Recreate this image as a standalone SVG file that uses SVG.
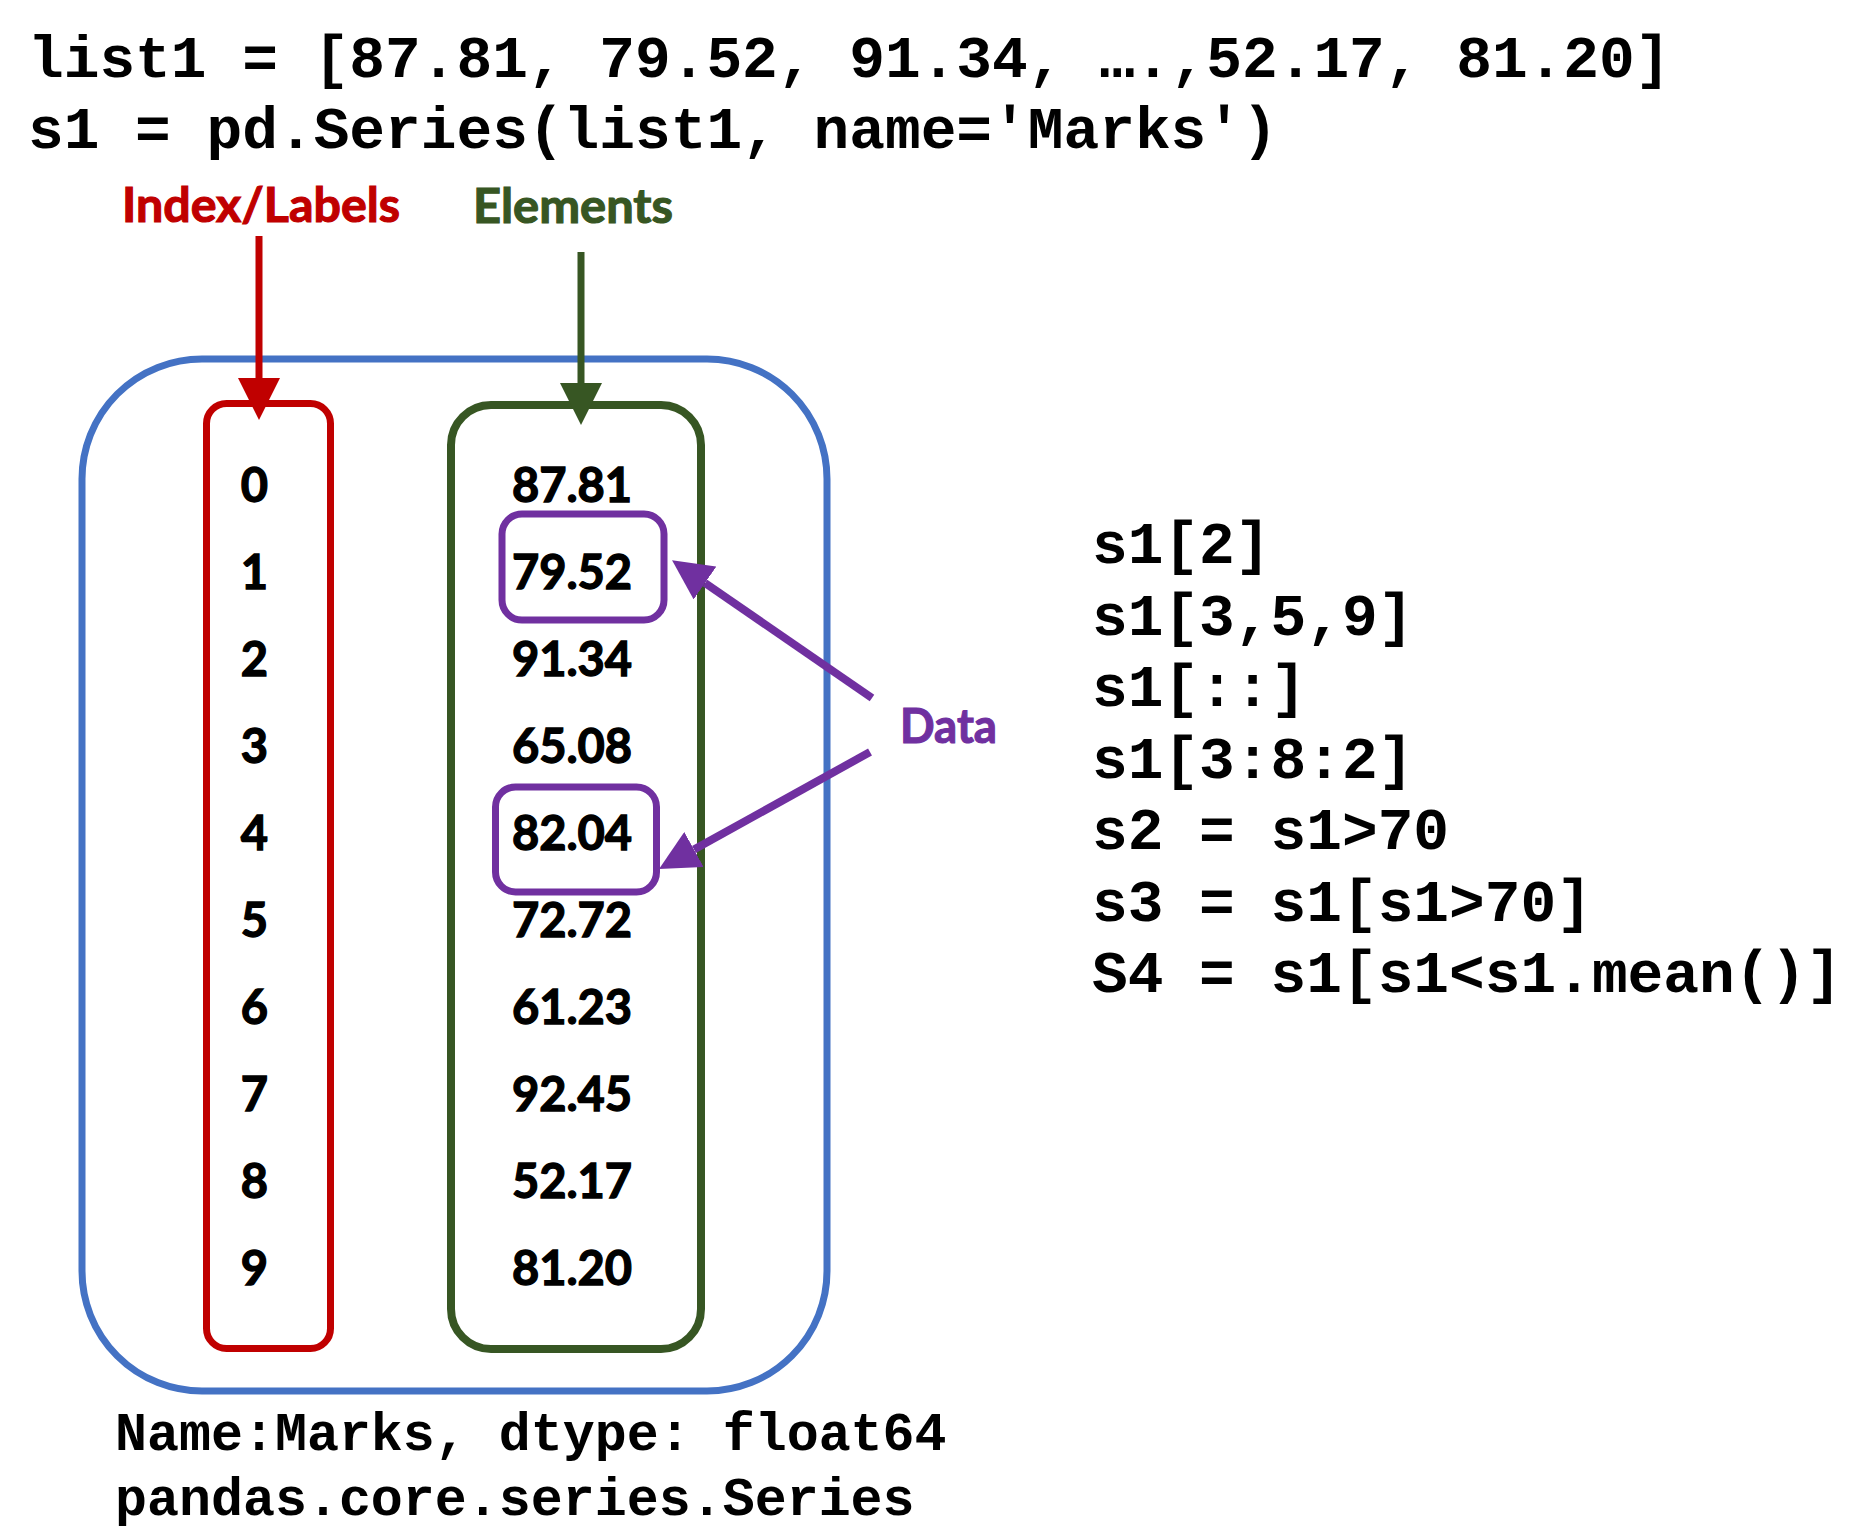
<svg xmlns="http://www.w3.org/2000/svg" width="1864" height="1540" viewBox="0 0 1864 1540">
  <style>
    .code { font-family: "Liberation Mono", "Courier New", monospace; font-weight: bold; font-size: 59.5px; fill: #000; }
    .foot { font-family: "Liberation Mono", "Courier New", monospace; font-weight: bold; font-size: 53.3px; fill: #000; }
    .cell { font-family: Lato, "Open Sans", sans-serif; font-weight: bold; font-size: 47px; fill: #000; stroke: #000; stroke-width: 1.3px; text-anchor: middle; }
    .tag  { font-family: Lato, "Open Sans", sans-serif; font-weight: bold; font-size: 47px; stroke-width: 1.1px; }
    .box  { fill: none; }
  </style>
  <defs>
    <marker id="headRed" markerUnits="userSpaceOnUse" markerWidth="42" markerHeight="42" viewBox="0 0 42 42" refX="0" refY="21" orient="auto">
      <path d="M0,0 L42,21 L0,42 z" fill="#C00000"/>
    </marker>
    <marker id="headGreen" markerUnits="userSpaceOnUse" markerWidth="42" markerHeight="42" viewBox="0 0 42 42" refX="0" refY="21" orient="auto">
      <path d="M0,0 L42,21 L0,42 z" fill="#375623"/>
    </marker>
    <marker id="headPurple" markerUnits="userSpaceOnUse" markerWidth="40" markerHeight="40" viewBox="0 0 40 40" refX="0" refY="20" orient="auto">
      <path d="M0,0 L40,20 L0,40 z" fill="#7030A0"/>
    </marker>
  </defs>

  <rect width="1864" height="1540" fill="#fff"/>

  <!-- code that builds the series -->
  <g id="source-code">
    <text class="code" x="28" y="77">list1 = [87.81, 79.52, 91.34, ….,52.17, 81.20]</text>
    <text class="code" x="28" y="148">s1 = pd.Series(list1, name='Marks')</text>
  </g>

  <!-- the Series container -->
  <g id="series">
    <rect class="box" x="82" y="359" width="745" height="1032" rx="120" ry="120" stroke="#4472C4" stroke-width="7"/>
  </g>

  <!-- index column -->
  <g id="index-column">
    <rect class="box" x="206.5" y="403.5" width="124" height="945" rx="20" ry="20" stroke="#C00000" stroke-width="7"/>
    <text class="cell" x="254.5" y="502">0</text>
    <text class="cell" x="254.5" y="589">1</text>
    <text class="cell" x="254.5" y="676">2</text>
    <text class="cell" x="254.5" y="763">3</text>
    <text class="cell" x="254.5" y="850">4</text>
    <text class="cell" x="254.5" y="937">5</text>
    <text class="cell" x="254.5" y="1024">6</text>
    <text class="cell" x="254.5" y="1111">7</text>
    <text class="cell" x="254.5" y="1198">8</text>
    <text class="cell" x="254.5" y="1285">9</text>
  </g>

  <!-- element column -->
  <g id="element-column">
    <rect class="box" x="451" y="405" width="250" height="944" rx="40" ry="40" stroke="#375623" stroke-width="8"/>
    <text class="cell" x="572" y="502">87.81</text>
    <text class="cell" x="572" y="589">79.52</text>
    <text class="cell" x="572" y="676">91.34</text>
    <text class="cell" x="572" y="763">65.08</text>
    <text class="cell" x="572" y="850">82.04</text>
    <text class="cell" x="572" y="937">72.72</text>
    <text class="cell" x="572" y="1024">61.23</text>
    <text class="cell" x="572" y="1111">92.45</text>
    <text class="cell" x="572" y="1198">52.17</text>
    <text class="cell" x="572" y="1285">81.20</text>
  </g>

  <!-- highlighted data cells -->
  <g id="data-cell-1">
    <rect class="box" x="502" y="514" width="162" height="106" rx="20" ry="20" stroke="#7030A0" stroke-width="7"/>
  </g>
  <g id="data-cell-4">
    <rect class="box" x="495.5" y="787" width="161" height="105" rx="20" ry="20" stroke="#7030A0" stroke-width="7"/>
  </g>

  <!-- labels -->
  <g id="label-index">
    <text class="tag" x="122" y="222" fill="#C00000" stroke="#C00000" textLength="278" lengthAdjust="spacingAndGlyphs">Index/Labels</text>
  </g>
  <g id="label-elements">
    <text class="tag" x="473" y="223" fill="#375623" stroke="#375623" textLength="200" lengthAdjust="spacingAndGlyphs">Elements</text>
  </g>
  <g id="label-data">
    <text class="tag" x="900" y="743" fill="#7030A0" stroke="#7030A0" font-size="46" textLength="97" lengthAdjust="spacingAndGlyphs">Data</text>
  </g>

  <!-- connectors -->
  <g id="connectors" fill="none">
    <line x1="259" y1="236" x2="259" y2="378" stroke="#C00000" stroke-width="7" marker-end="url(#headRed)"/>
    <line x1="581" y1="252" x2="581" y2="383" stroke="#375623" stroke-width="7" marker-end="url(#headGreen)"/>
    <line x1="872" y1="698" x2="705" y2="583" stroke="#7030A0" stroke-width="8" marker-end="url(#headPurple)"/>
    <line x1="870" y1="752" x2="694" y2="849.6" stroke="#7030A0" stroke-width="8" marker-end="url(#headPurple)"/>
  </g>

  <!-- indexing examples -->
  <g id="examples">
    <text class="code" x="1092" y="563">s1[2]</text>
    <text class="code" x="1092" y="634.5">s1[3,5,9]</text>
    <text class="code" x="1092" y="706">s1[::]</text>
    <text class="code" x="1092" y="777.5">s1[3:8:2]</text>
    <text class="code" x="1092" y="849">s2 = s1&gt;70</text>
    <text class="code" x="1092" y="920.5">s3 = s1[s1&gt;70]</text>
    <text class="code" x="1092" y="992">S4 = s1[s1&lt;s1.mean()]</text>
  </g>

  <!-- series metadata -->
  <g id="footer">
    <text class="foot" x="115" y="1450">Name:Marks, dtype: float64</text>
    <text class="foot" x="115" y="1515">pandas.core.series.Series</text>
  </g>
</svg>
